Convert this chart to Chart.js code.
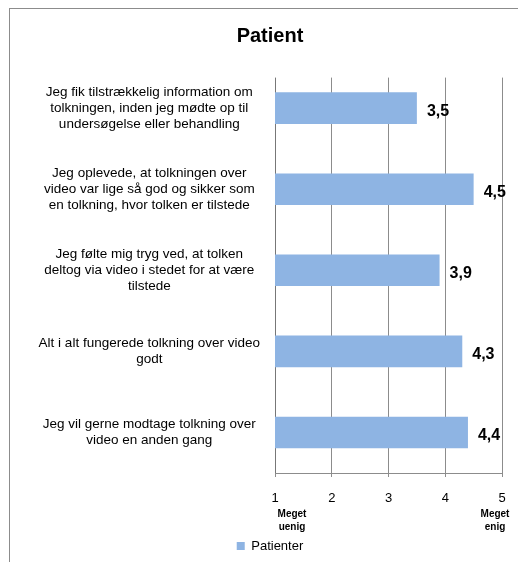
<!DOCTYPE html>
<html>
<head>
<meta charset="utf-8">
<script src="https://cdn.jsdelivr.net/npm/chart.js@4.4.1/dist/chart.umd.min.js"></script>
<style>
  html, body { margin: 0; padding: 0; background: #fff; overflow: hidden; }
  #frame { position: absolute; left: 9px; top: 8px; width: 518px; height: 570px; border: 1px solid #8c8c8c; }
  canvas { display: block; }
</style>
</head>
<body>
<div id="frame"><canvas id="chart" width="518" height="570"></canvas></div>
<script>
// Survey statements (one line per array entry, as wrapped in the original)
const categories = [
  ['Jeg fik tilstrækkelig information om', 'tolkningen, inden jeg mødte op til', 'undersøgelse eller behandling'],
  ['Jeg oplevede, at tolkningen over', 'video var lige så god og sikker som', 'en tolkning, hvor tolken er tilstede'],
  ['Jeg følte mig tryg ved, at tolken', 'deltog via video i stedet for at være', 'tilstede'],
  ['Alt i alt fungerede tolkning over video', 'godt'],
  ['Jeg vil gerne modtage tolkning over', 'video en anden gang']
];
const patientValues = [3.5, 4.5, 3.9, 4.3, 4.4];
const scaleTicks = [1, 2, 3, 4, 5];
const lowEndLabel = ['Meget', 'uenig'];
const highEndLabel = ['Meget', 'enig'];

const FONT = '"Liberation Sans", Arial, sans-serif';
Chart.defaults.font.family = FONT;
Chart.defaults.color = '#000';

const fmt = (v) => v.toFixed(1).replace('.', ',');

// vertical gridlines start a bit below the top of the plot, like the original
const gridLines = {
  id: 'gridLines',
  beforeDatasetsDraw(chart) {
    const { ctx, chartArea, scales: { x } } = chart;
    const top = chartArea.top + 10;
    ctx.save();
    ctx.lineWidth = 1;
    scaleTicks.forEach((t, i) => {
      const px = Math.round(x.getPixelForValue(t) - 0.5) + 0.5;
      ctx.strokeStyle = i === 0 ? '#777777' : '#8c8c8c';
      ctx.beginPath();
      ctx.moveTo(px, top);
      ctx.lineTo(px, chartArea.bottom);
      ctx.stroke();
    });
    ctx.restore();
  }
};

const valueLabels = {
  id: 'valueLabels',
  afterDatasetsDraw(chart) {
    const { ctx } = chart;
    const meta = chart.getDatasetMeta(0);
    ctx.save();
    ctx.font = 'bold 16px ' + FONT;
    ctx.fillStyle = '#000';
    ctx.textAlign = 'left';
    ctx.textBaseline = 'middle';
    meta.data.forEach((bar, i) => {
      ctx.fillText(fmt(patientValues[i]), bar.x + 10, bar.y + 3);
    });
    ctx.restore();
  }
};

const endLabels = {
  id: 'endLabels',
  afterDraw(chart) {
    const { ctx, scales: { x } } = chart;
    ctx.save();
    ctx.font = 'bold 10px ' + FONT;
    ctx.fillStyle = '#000';
    ctx.textAlign = 'center';
    ctx.textBaseline = 'middle';
    const lx = x.getPixelForValue(1) + 17;
    const hx = x.getPixelForValue(5) - 7;
    lowEndLabel.forEach((s, i) => ctx.fillText(s, lx, x.top + 41.5 + i * 12.5));
    highEndLabel.forEach((s, i) => ctx.fillText(s, hx, x.top + 41.5 + i * 12.5));
    ctx.restore();
  }
};

new Chart(document.getElementById('chart').getContext('2d'), {
  type: 'bar',
  data: {
    labels: categories,
    datasets: [{
      label: 'Patienter',
      data: patientValues,
      backgroundColor: '#8EB4E3',
      borderWidth: 0,
      categoryPercentage: 1,
      barPercentage: 0.39
    }]
  },
  options: {
    indexAxis: 'y',
    responsive: false,
    animation: false,
    layout: { padding: { left: 28, right: 26, top: 0, bottom: 16.5 } },
    scales: {
      x: {
        type: 'linear',
        min: 1,
        max: 5,
        ticks: { stepSize: 1, font: { size: 13 }, color: '#000', padding: 14 },
        grid: { drawOnChartArea: false, drawTicks: true, tickLength: 4, color: '#8c8c8c' },
        border: { display: true, color: '#8c8c8c' },
        afterFit(s) { s.height = 56.5; }
      },
      y: {
        ticks: { font: { size: 13.5 }, color: '#000', crossAlign: 'center', padding: 15 },
        grid: { display: false, drawTicks: false },
        border: { display: false },
        afterFit(s) { s.width = 237; }
      }
    },
    plugins: {
      title: {
        display: true,
        text: 'Patient',
        color: '#000',
        font: { size: 20, weight: 'bold' },
        padding: { top: 15, bottom: 19.6 }
      },
      legend: {
        position: 'bottom',
        labels: { boxWidth: 8, boxHeight: 8, font: { size: 13 }, color: '#000' }
      },
      tooltip: { enabled: false }
    }
  },
  plugins: [gridLines, valueLabels, endLabels]
});
</script>
</body>
</html>
